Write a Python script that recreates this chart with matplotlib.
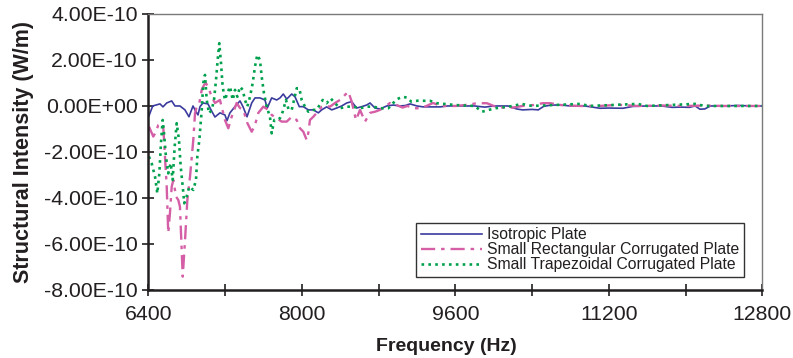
import numpy as np
import matplotlib
matplotlib.use('Agg')
import matplotlib.pyplot as plt
from matplotlib.ticker import FuncFormatter

plt.rcParams['font.family'] = ['Liberation Sans', 'DejaVu Sans']

# intensity values are in units of 1e-10 W/m
iso_freq = [6407, 6446, 6522, 6553, 6592, 6644, 6678, 6730, 6782, 6824, 6866, 6897,
            6918, 6939, 6970, 7022, 7064, 7095, 7147, 7199, 7220, 7251, 7303, 7356,
            7387, 7429, 7478, 7512, 7564, 7616, 7640, 7686, 7738, 7773, 7807, 7843,
            7895, 7929, 7974, 8016, 8068, 8120, 8172, 8207, 8259, 8312, 8364, 8416,
            8468, 8520, 8572, 8624, 8676, 8711, 8763, 8815, 8885, 8954, 9023,
            9080, 9128, 9200, 9265, 9350, 9443, 9520, 9650, 9800, 9909, 10000, 10150,
            10240, 10300, 10400, 10465, 10520, 10600, 10700, 10800, 10950, 11108,
            11200, 11348, 11450, 11600, 11750, 11860, 11950, 12040, 12100, 12150,
            12200, 12260, 12400, 12550, 12700, 12800]
iso_val = [-0.43, 0.0, 0.09, -0.04, 0.13, 0.22, 0.0, 0.0, -0.17, -0.47, 0.0, -0.25,
           -0.39, -0.03, 0.13, 0.09, -0.25, -0.48, -0.30, -0.39, -0.64, -0.30, -0.03, 0.22,
           -0.03, -0.47, 0.13, 0.35, 0.35, 0.26, -0.09, 0.35, 0.26, 0.35, 0.52, 0.30,
           0.52, 0.40, -0.03, -0.03, -0.17, -0.17, -0.30, -0.17, -0.04, -0.17, -0.09, 0.0,
           0.13, 0.19, -0.09, -0.03, 0.04, 0.13, -0.09, -0.13, 0.0, 0.04, 0.0,
           0.02, 0.09, 0.0, -0.04, -0.04, -0.04, 0.0, 0.0, 0.0, -0.05, 0.0, 0.0,
           -0.13, -0.17, -0.15, -0.17, -0.02, 0.04, 0.04, 0.0, 0.0, -0.10,
           -0.09, -0.10, -0.02, 0.0, 0.0, -0.06, -0.05, -0.06, 0.0, -0.14,
           -0.13, 0.0, 0.0, 0.02, 0.0, 0.0]

rect_freq = [6407, 6452, 6480, 6504, 6529, 6556, 6592, 6608, 6626, 6644, 6661, 6689,
             6713, 6730, 6759, 6783, 6807, 6835, 6869, 6887, 6904, 6932, 6957, 6981,
             7001, 7025, 7061, 7095, 7147, 7199, 7234, 7269, 7321, 7356, 7390, 7432,
             7478, 7512, 7547, 7599, 7651, 7686, 7738, 7790, 7843, 7895, 7947, 7981,
             8016, 8051, 8068, 8085, 8120, 8155, 8207, 8242, 8294, 8346, 8398, 8450,
             8485, 8520, 8565, 8607, 8659, 8711, 8763, 8815, 8867, 8919, 8989,
             9050, 9100, 9170, 9230, 9300, 9367, 9450, 9600, 9700, 9830, 9930, 10000,
             10100, 10200, 10300, 10400, 10510, 10590, 10700, 10900, 11100, 11300,
             11500, 11750, 12000, 12200, 12400, 12600, 12800]
rect_val = [-0.90, -1.33, -1.12, -0.83, -0.78, -0.90, -3.51, -5.52, -4.65, -3.51, -3.22, -3.94,
            -4.09, -4.38, -7.42, -5.83, -4.09, -3.07, -1.48, -0.32, -0.03, 0.13, 0.70, 0.91,
            0.99, 0.81, 0.40, 0.13, 0.26, -0.61, -0.97, -0.47, 0.13, -0.09, -0.17, -0.74,
            -1.12, -0.83, -0.30, -0.03, -0.17, -0.39, -0.53, -0.68, -0.68, -0.47, -0.61, -0.97,
            -1.12, -1.48, -1.17, -0.61, -0.47, -0.30, -0.04, 0.0, -0.03, 0.13, 0.26, 0.48,
            0.62, 0.19, -0.61, -0.17, -0.68, -0.30, -0.25, -0.17, -0.03, 0.13, 0.04,
            -0.07, 0.0, -0.10, -0.10, 0.0, 0.13, 0.0, 0.0, 0.04, 0.12, 0.12, 0.0,
            -0.07, -0.07, 0.0, 0.03, 0.12, 0.12, 0.04, 0.0, 0.0, 0.05,
            0.0, 0.02, 0.0, 0.02, 0.0, 0.0, 0.0]

trap_freq = [6407, 6435, 6470, 6494, 6515, 6532, 6550, 6564, 6584, 6608, 6633, 6654,
             6675, 6696, 6720, 6738, 6759, 6775, 6800, 6827, 6869, 6897, 6911, 6932,
             6957, 6973, 6991, 7009, 7033, 7061, 7085, 7106, 7123, 7140, 7158, 7175,
             7199, 7223, 7252, 7280, 7304, 7328, 7356, 7384, 7408, 7432, 7460, 7488,
             7512, 7536, 7564, 7582, 7606, 7634, 7668, 7686, 7713, 7745, 7773, 7801,
             7835, 7863, 7895, 7919, 7947, 7974, 7999, 8033, 8068, 8103, 8155, 8218,
             8259, 8301, 8346, 8398, 8468, 8537, 8607, 8676, 8745, 8815, 8902, 8989,
             9050, 9100, 9140, 9210, 9340, 9410, 9600, 9800, 9880, 9950, 10020, 10200,
             10290, 10400, 10900, 11000, 11500, 11600, 12100, 12200, 12800]
trap_val = [-2.20, -2.49, -3.07, -3.80, -2.93, -1.62, -0.61, -1.19, -2.20, -2.93, -2.49, -3.22,
            -1.77, -0.75, -1.48, -2.64, -3.51, -4.23, -3.94, -3.51, -3.65, -3.22, -2.20, -1.48,
            -0.17, 0.99, 1.35, 0.26, -0.32, -0.17, 0.26, 1.13, 2.00, 2.73, 1.86, 0.84,
            0.26, 0.55, 0.84, 0.26, 0.70, 0.40, 0.84, 0.70, 0.26, -0.03, 0.40, 0.99,
            1.71, 2.22, 2.00, 1.27, 0.55, -0.03, -0.47, -1.19, -0.61, -0.61, -0.53, -0.25,
            0.26, -0.17, -0.17, 0.26, 0.77, 0.77, 0.26, -0.03, -0.25, -0.17, -0.17, 0.26,
            0.12, 0.33, 0.12, -0.10, -0.03, -0.03, -0.10, -0.03, -0.03, -0.10, -0.10, 0.29,
            0.40, 0.36, 0.19, 0.23, 0.22, 0.12, 0.04, 0.0, -0.25, -0.17, -0.10, 0.0,
            0.09, 0.0, 0.09, 0.0, 0.09, 0.0, 0.09, 0.0, 0.0]

labels = ['Isotropic Plate', 'Small Rectangular Corrugated Plate',
          'Small Trapezoidal Corrugated Plate']
scale = 1e-10

fig = plt.figure(figsize=(7.93, 3.58), dpi=100)
ax = fig.add_axes([0.187, 0.19, 0.7743, 0.771])

ax.plot(iso_freq, np.array(iso_val) * scale, color='#3b3b9e', lw=1.2,
        label=labels[0])
ax.plot(rect_freq, np.array(rect_val) * scale, color='#d45fa6', lw=1.7,
        ls=(0, (6, 2.5, 1.5, 2.5)), label=labels[1])
ax.plot(trap_freq, np.array(trap_val) * scale, color='#00a04c', lw=1.9,
        ls=(0, (1, 1.6)), label=labels[2])

ax.set_xlim(6400, 12800)
ax.set_ylim(-8e-10, 4e-10)
ax.set_xticks(np.arange(6400, 12801, 800))
ax.xaxis.set_major_formatter(FuncFormatter(
    lambda v, p: '%d' % v if (v - 6400) % 1600 == 0 else ''))
ax.set_yticks(np.arange(-8e-10, 4.01e-10, 2e-10))
ax.yaxis.set_major_formatter(FuncFormatter(
    lambda v, p: '0.00E+00' if abs(v) < 1e-15 else '%.2fE-10' % (v / scale)))

txt = '#231f20'
ax.tick_params(direction='inout', length=9, width=1.2, colors=txt,
               labelsize=15.3)
ax.tick_params(axis='x', pad=6)
ax.tick_params(axis='y', pad=3)
for s in ['left', 'bottom']:
    ax.spines[s].set_color(txt)
    ax.spines[s].set_linewidth(1.8)
for s in ['top', 'right']:
    ax.spines[s].set_color('#7a7a7a')
    ax.spines[s].set_linewidth(1.0)

ax.set_xlabel('Frequency (Hz)', fontsize=14, fontweight='bold', color=txt,
              labelpad=8)
ax.xaxis.set_label_coords(0.485, -0.175)
ax.set_ylabel('Structural Intensity (W/m)', fontsize=15.5, fontweight='bold',
              color=txt, labelpad=7)

leg = ax.legend(loc='lower right', bbox_to_anchor=(0.970, 0.047),
                borderaxespad=0, fontsize=11.3, handlelength=3.9,
                handletextpad=0.3, labelspacing=0.0, borderpad=0.3,
                fancybox=False, framealpha=1)
leg.get_frame().set_edgecolor('#333333')
leg.get_frame().set_linewidth(1.0)
for t in leg.get_texts():
    t.set_color(txt)

fig.savefig('out.png', dpi=100)
